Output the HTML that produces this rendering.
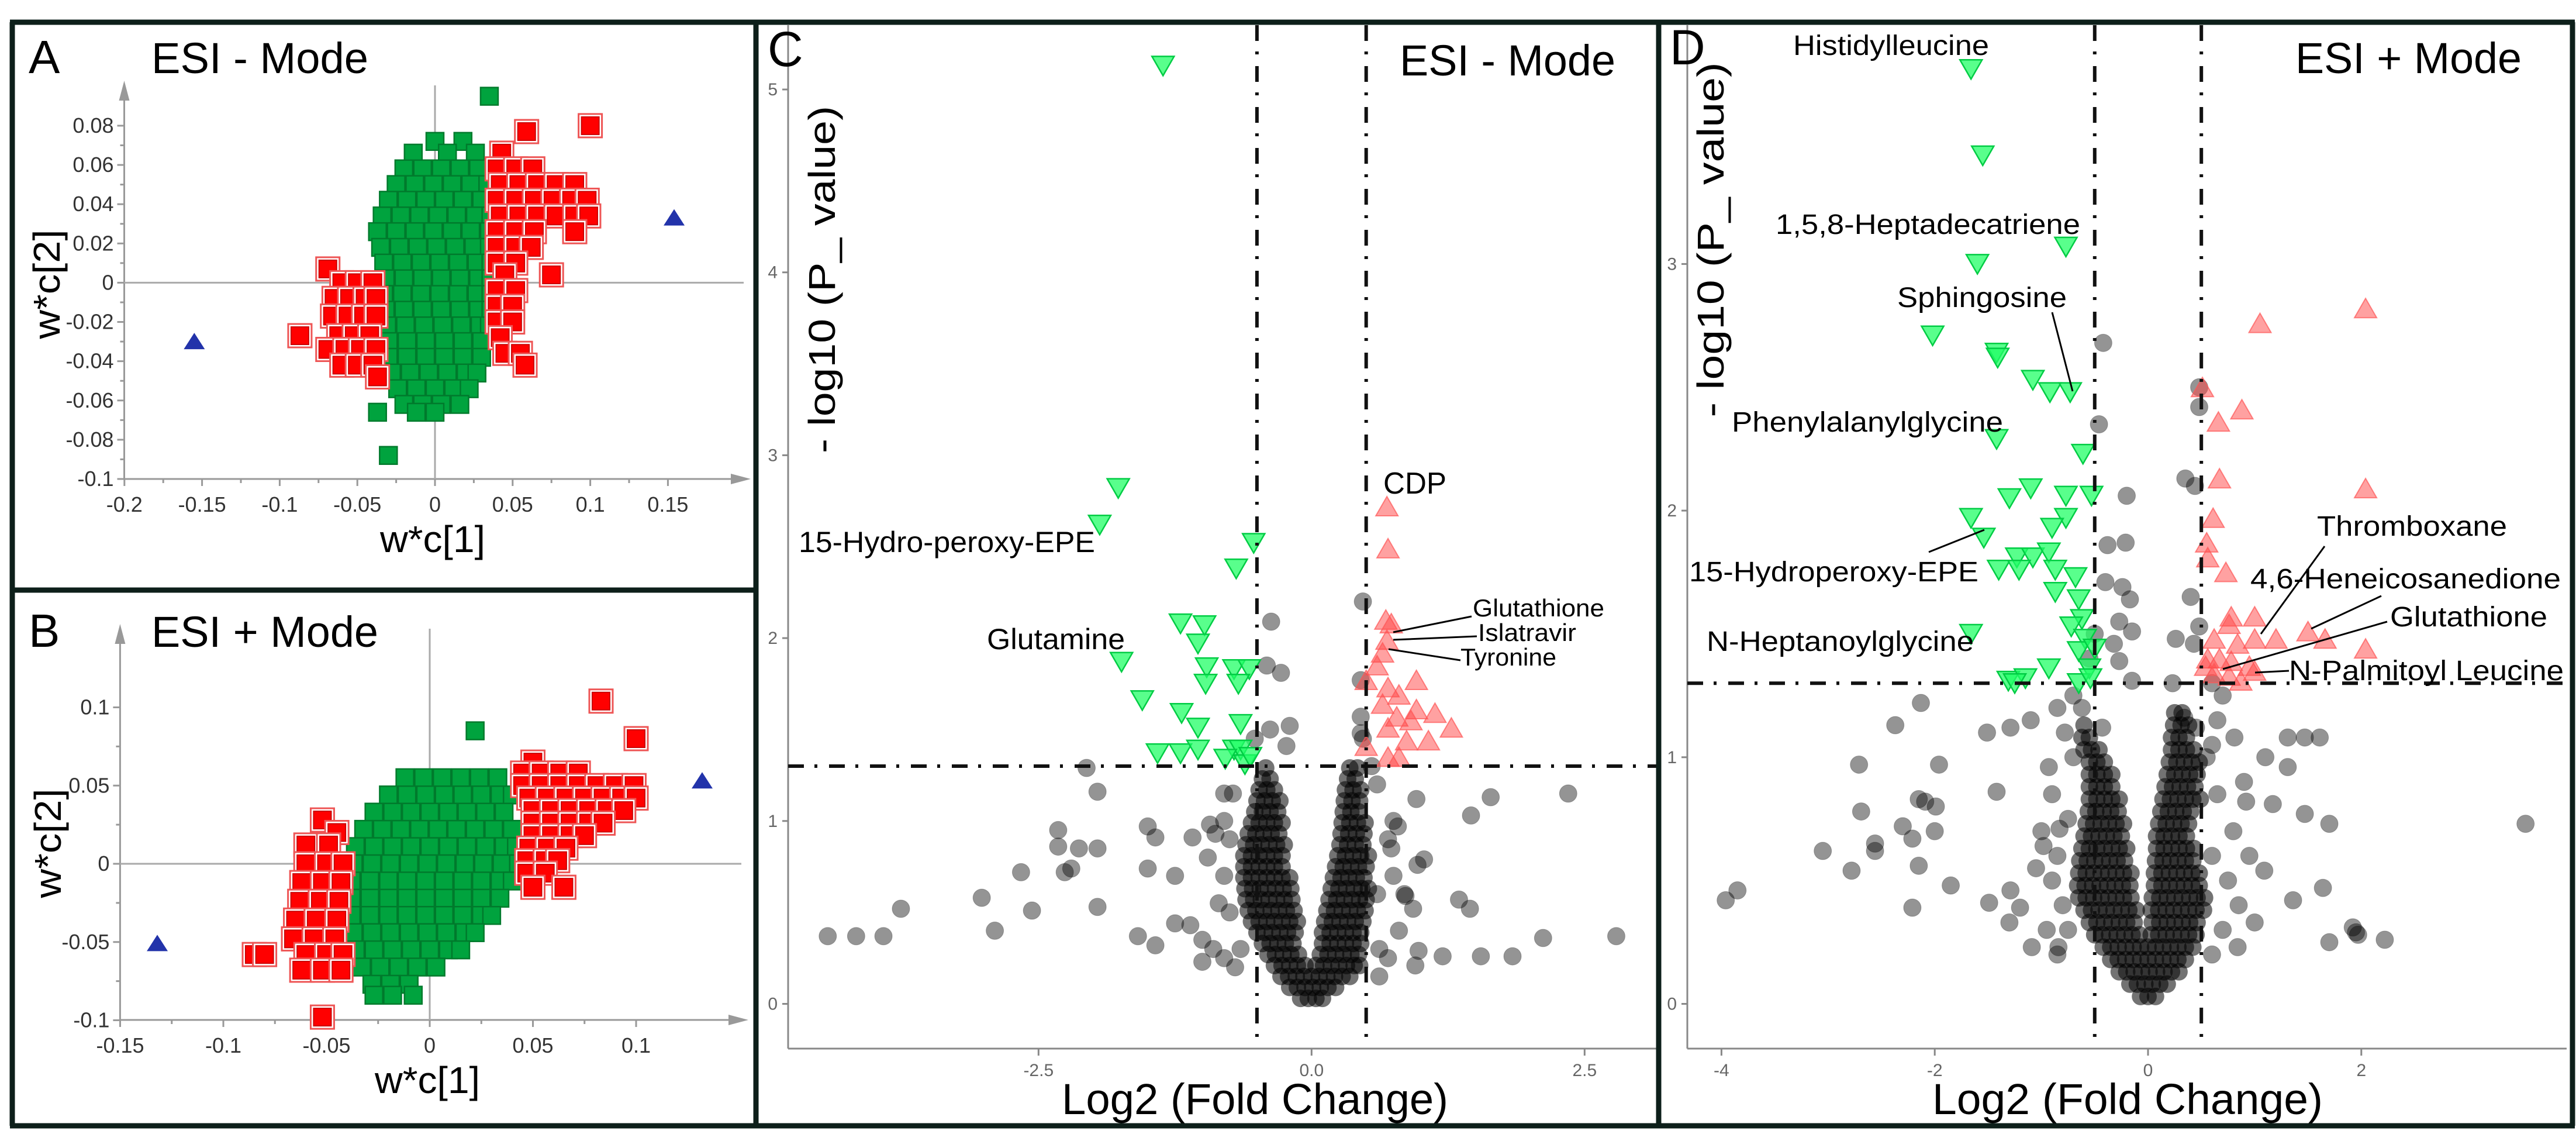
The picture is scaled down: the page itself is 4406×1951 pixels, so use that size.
<!DOCTYPE html>
<html><head><meta charset="utf-8">
<style>
html,body{margin:0;padding:0;background:#fff;}
svg{display:block;font-family:"Liberation Sans",Arial,sans-serif;}
</style></head>
<body>
<svg id="fig" xmlns="http://www.w3.org/2000/svg" width="4406" height="1951" viewBox="0 0 4406 1951">
<rect x="0" y="0" width="4406" height="1951" fill="#fff"/>
<g id="gA"></g>
<g id="gB"></g>
<g id="gC"></g>
<g id="gD"></g>
<g id="frame" stroke="#0d1f1a" stroke-width="9" fill="none">
<line x1="17" y1="38" x2="4404" y2="38"/>
<line x1="17" y1="1925" x2="4404" y2="1925"/>
<line x1="21" y1="38" x2="21" y2="1925"/>
<line x1="1293" y1="38" x2="1293" y2="1925"/>
<line x1="2837" y1="38" x2="2837" y2="1925"/>
<line x1="4400" y1="38" x2="4400" y2="1925"/>
<line x1="21" y1="1009" x2="1293" y2="1009"/>
</g>
</svg>
<script>
// ---------- Panel A data ----------
const aXTicks = [-0.2,-0.15,-0.1,-0.05,0,0.05,0.1,0.15];
const aXTickLabels = ["-0.2","-0.15","-0.1","-0.05","0","0.05","0.1","0.15"];
const aYTicks = [0.08,0.06,0.04,0.02,0,-0.02,-0.04,-0.06,-0.08,-0.1];
const aYTickLabels = ["0.08","0.06","0.04","0.02","0","-0.02","-0.04","-0.06","-0.08","-0.1"];
const aGreenRows = [
[0.095,[0.035]],[0.072,[0.0,0.018]],[0.066,[-0.014,0.008,0.026]],
[0.058,[-0.02,-0.008,0.004,0.016,0.028]],
[0.05,[-0.025,-0.013,-0.001,0.011,0.023,0.034]],
[0.042,[-0.03,-0.018,-0.006,0.006,0.018,0.03,0.038]],
[0.034,[-0.034,-0.022,-0.01,0.002,0.014,0.026,0.036]],
[0.026,[-0.037,-0.025,-0.013,-0.001,0.011,0.023,0.035]],
[0.018,[-0.035,-0.023,-0.011,0.001,0.013,0.025,0.035]],
[0.01,[-0.033,-0.021,-0.009,0.003,0.015,0.027,0.036]],
[0.002,[-0.032,-0.02,-0.008,0.004,0.016,0.028,0.036]],
[-0.006,[-0.033,-0.021,-0.009,0.003,0.015,0.027,0.036]],
[-0.014,[-0.032,-0.02,-0.008,0.004,0.016,0.028,0.036]],
[-0.022,[-0.031,-0.019,-0.007,0.005,0.017,0.029,0.035]],
[-0.03,[-0.03,-0.018,-0.006,0.006,0.018,0.03]],
[-0.038,[-0.03,-0.018,-0.006,0.006,0.018,0.03]],
[-0.046,[-0.028,-0.016,-0.004,0.008,0.02,0.027]],
[-0.054,[-0.024,-0.012,0.0,0.012,0.022]],
[-0.062,[-0.02,-0.008,0.004,0.016]],
[-0.066,[-0.037,-0.012,0.0]],
[-0.088,[-0.03]]
];
const aRedRows = [
[0.08,[0.1]],[0.077,[0.059]],[0.066,[0.043]],[0.058,[0.04,0.052,0.063]],
[0.05,[0.042,0.054,0.066,0.078,0.09]],
[0.042,[0.04,0.052,0.064,0.076,0.088,0.098]],
[0.034,[0.042,0.054,0.066,0.078,0.09,0.099]],
[0.026,[0.04,0.052,0.064,0.09]],
[0.018,[0.04,0.052,0.062]],[0.01,[0.04,0.052]],[0.004,[0.045,0.075]],
[-0.004,[0.04,0.052]],[-0.012,[0.04,0.05]],[-0.02,[0.04,0.05]],[-0.028,[0.042]],
[-0.036,[0.045,0.055]],[-0.042,[0.058]],
[0.007,[-0.069]],[0.0,[-0.06,-0.05,-0.04]],[-0.008,[-0.065,-0.055,-0.045,-0.038]],
[-0.017,[-0.066,-0.056,-0.046,-0.038]],[-0.027,[-0.087,-0.062,-0.052,-0.042]],
[-0.034,[-0.069,-0.058,-0.048,-0.038]],[-0.042,[-0.06,-0.05,-0.04]],[-0.048,[-0.037]]
];
const aBlue = [[-0.155,-0.03],[0.154,0.033]];

// ---------- Panel B data ----------
const bXTicks = [-0.15,-0.1,-0.05,0,0.05,0.1];
const bXTickLabels = ["-0.15","-0.1","-0.05","0","0.05","0.1"];
const bYTicks = [0.1,0.05,0,-0.05,-0.1];
const bYTickLabels = ["0.1","0.05","0","-0.05","-0.1"];
const bGreenRows = [
[0.085,[0.022]],
[0.055,[-0.012,-0.003,0.006,0.015,0.024,0.033]],
[0.044,[-0.02,-0.011,-0.002,0.007,0.016,0.025,0.034,0.04]],
[0.033,[-0.027,-0.018,-0.009,0,0.009,0.018,0.027,0.036]],
[0.022,[-0.032,-0.023,-0.014,-0.005,0.004,0.013,0.022,0.031,0.04]],
[0.011,[-0.036,-0.027,-0.018,-0.009,0,0.009,0.018,0.027,0.036,0.042]],
[0,[-0.037,-0.028,-0.019,-0.01,-0.001,0.008,0.017,0.026,0.035,0.043]],
[-0.011,[-0.038,-0.029,-0.02,-0.011,-0.002,0.007,0.016,0.025,0.034,0.04]],
[-0.022,[-0.038,-0.029,-0.02,-0.011,-0.002,0.007,0.016,0.025,0.034]],
[-0.033,[-0.038,-0.029,-0.02,-0.011,-0.002,0.007,0.016,0.025,0.03]],
[-0.044,[-0.037,-0.028,-0.019,-0.01,-0.001,0.008,0.017,0.022]],
[-0.055,[-0.036,-0.027,-0.018,-0.009,0,0.009,0.015]],
[-0.066,[-0.033,-0.024,-0.015,-0.006,0.003]],
[-0.077,[-0.028,-0.019,-0.01]],
[-0.084,[-0.027,-0.018,-0.008]]
];
const bRedRows = [
[0.104,[0.083]],[0.08,[0.1]],[0.065,[0.05]],
[0.058,[0.045,0.054,0.063,0.072]],
[0.05,[0.045,0.054,0.063,0.072,0.081,0.09,0.099]],
[0.042,[0.048,0.057,0.066,0.075,0.084,0.093,0.1]],
[0.034,[0.05,0.059,0.068,0.077,0.086,0.094]],
[0.026,[0.05,0.059,0.068,0.077,0.084]],
[0.018,[0.05,0.059,0.068,0.075]],
[0.01,[0.048,0.057,0.066]],[0.002,[0.047,0.056,0.062]],
[-0.006,[0.047,0.056]],[-0.015,[0.05,0.065]],
[0.028,[-0.052]],[0.02,[-0.045]],[0.012,[-0.06,-0.049]],
[0.0,[-0.06,-0.05,-0.042]],[-0.012,[-0.062,-0.052,-0.043]],
[-0.024,[-0.063,-0.053,-0.044]],[-0.036,[-0.065,-0.055,-0.045]],
[-0.048,[-0.066,-0.056,-0.046]],[-0.058,[-0.085,-0.08,-0.06,-0.05,-0.042]],
[-0.068,[-0.062,-0.052,-0.043]],[-0.098,[-0.052]]
];
const bBlue = [[-0.132,-0.051],[0.132,0.053]];

// ---------- Panel C data ----------
const cXTicks = [-2.5,0,2.5];
const cXTickLabels = ["-2.5","0.0","2.5"];
const cYTicks = [0,1,2,3,4,5];
const cYTickLabels = ["0","1","2","3","4","5"];
const cDown = [[-1.36,5.13],[-1.77,2.82],[-1.94,2.62],[-0.53,2.52],[-0.69,2.38],[-1.2,2.08],[-0.98,2.07],[-1.04,1.97],[-1.74,1.87],[-0.96,1.84],[-0.71,1.83],[-0.57,1.83],[-0.97,1.75],[-0.67,1.75],[-1.55,1.66],[-1.19,1.59],[-1.04,1.51],[-0.65,1.53],[-1.41,1.37],[-1.2,1.37],[-1.04,1.39],[-0.71,1.39],[-0.65,1.39],[-0.79,1.34],[-0.61,1.31],[-0.56,1.35]];
const cUp = [[0.69,2.72],[0.70,2.49],[0.68,2.10],[0.73,2.08],[0.69,1.99],[0.65,1.92],[0.60,1.85],[0.5,1.77],[0.96,1.77],[0.70,1.73],[0.8,1.69],[0.65,1.64],[0.96,1.61],[1.13,1.59],[0.78,1.57],[0.91,1.55],[1.28,1.51],[0.7,1.51],[1.07,1.44],[0.87,1.44],[0.5,1.41],[0.7,1.35],[0.8,1.35]];
const cNS = [[-4.43,0.37],[-4.17,0.37],[-3.92,0.37],[-3.76,0.52],[-3.02,0.58],[-2.9,0.4],[-2.66,0.72],[-2.56,0.51],[-2.32,0.95],[-2.32,0.86],[-2.13,0.85],[-1.96,0.85],[-2.26,0.72],[-2.2,0.74],[-1.96,0.53],[-1.96,1.16],[-2.06,1.29],[-1.59,0.37],[-1.43,0.32],[-1.5,0.74],[-1.25,0.7],[-1.25,0.44],[-1.43,0.91],[-1.5,0.97],[-1.11,0.43],[-1.0,0.35],[-0.93,0.98],[-0.88,0.93],[-1.09,0.91],
[2.35,1.15],[1.64,1.13],[1.46,1.03],[2.79,0.37],[2.12,0.36],[1.84,0.26],[1.55,0.26],[1.45,0.52],[1.35,0.57],[1.2,0.26],[0.98,0.29],[0.95,0.21],[0.93,0.52],[0.86,0.59],[0.97,0.76],[1.03,0.79],[0.96,1.12],[0.79,0.97],[0.73,0.85],
[-0.37,2.09],[0.47,2.2],[-0.28,1.81],[-0.41,1.85],[-0.2,1.52],[-0.23,1.41],[0.45,1.77],[0.45,1.57],[0.45,1.48],
[-0.75,0.9],[-0.8,0.7],[-0.75,0.5],[-0.65,0.3],[-0.7,0.2],[-0.8,0.25],[-0.85,0.55],[-0.8,1.0],[-0.72,1.15],[-0.9,0.3],[-1.0,0.23],[-0.95,0.8],[-0.8,1.15],[-0.52,1.45],[-0.38,1.5],
[0.6,0.6],[0.7,0.9],[0.62,0.3],[0.6,1.2],[0.75,0.7],[0.8,0.4],[0.62,0.15],[0.75,1.0],[0.7,0.25],[0.85,0.6],[0.47,1.45],[0.55,1.3]];
const cCoreRows = [
[0.03,[-0.1,-0.03,0.04,0.1]],
[0.09,[-0.2,-0.13,-0.06,0.01,0.08,0.15,0.22]],
[0.15,[-0.28,-0.21,-0.14,-0.07,0,0.07,0.14,0.21,0.28,0.35]],
[0.21,[-0.34,-0.27,-0.2,-0.13,-0.06,0.04,0.11,0.18,0.25,0.32,0.39,0.44]],
[0.27,[-0.4,-0.33,-0.26,-0.19,-0.12,0.08,0.15,0.22,0.29,0.36,0.43]],
[0.33,[-0.45,-0.38,-0.31,-0.24,-0.17,0.1,0.17,0.24,0.31,0.38,0.45]],
[0.39,[-0.5,-0.43,-0.36,-0.29,-0.22,-0.15,0.1,0.17,0.24,0.31,0.38,0.45]],
[0.45,[-0.55,-0.48,-0.41,-0.34,-0.27,-0.2,-0.13,0.12,0.19,0.26,0.33,0.4,0.47]],
[0.51,[-0.58,-0.51,-0.44,-0.37,-0.3,-0.23,-0.16,0.14,0.21,0.28,0.35,0.42,0.49]],
[0.57,[-0.6,-0.53,-0.46,-0.39,-0.32,-0.25,-0.18,0.16,0.23,0.3,0.37,0.44,0.5]],
[0.63,[-0.61,-0.54,-0.47,-0.4,-0.33,-0.26,-0.19,0.18,0.25,0.32,0.39,0.46,0.52]],
[0.69,[-0.62,-0.55,-0.48,-0.41,-0.34,-0.27,-0.2,0.2,0.27,0.34,0.41,0.48]],
[0.75,[-0.62,-0.55,-0.48,-0.41,-0.34,-0.27,0.22,0.29,0.36,0.43,0.5]],
[0.81,[-0.62,-0.55,-0.48,-0.41,-0.34,-0.27,0.24,0.31,0.38,0.45,0.52]],
[0.87,[-0.6,-0.53,-0.46,-0.39,-0.32,-0.25,0.26,0.33,0.4,0.47]],
[0.93,[-0.58,-0.51,-0.44,-0.37,-0.3,0.27,0.34,0.41,0.48]],
[0.99,[-0.55,-0.48,-0.41,-0.34,-0.27,0.28,0.35,0.42,0.49]],
[1.05,[-0.52,-0.45,-0.38,-0.31,0.29,0.36,0.43]],
[1.11,[-0.5,-0.43,-0.36,-0.29,0.3,0.37,0.44]],
[1.17,[-0.48,-0.41,-0.34,0.31,0.38,0.45]],
[1.23,[-0.45,-0.38,0.33,0.4]],
[1.29,[-0.42,0.35,0.42]]
];

// ---------- Panel D data ----------
const dXTicks = [-4,-2,0,2];
const dXTickLabels = ["-4","-2","0","2"];
const dYTicks = [0,1,2,3];
const dYTickLabels = ["0","1","2","3"];
const dDown = [[-1.66,3.79],[-1.55,3.44],[-0.77,3.07],[-1.60,3.0],[-2.02,2.71],[-1.42,2.64],[-1.41,2.62],[-1.08,2.53],[-0.92,2.48],[-0.73,2.48],[-1.42,2.29],[-0.61,2.23],[-1.1,2.09],[-1.3,2.05],[-0.77,2.06],[-0.53,2.06],[-1.66,1.97],[-1.54,1.89],[-0.77,1.97],[-0.9,1.93],[-1.23,1.81],[-1.08,1.81],[-0.93,1.83],[-1.4,1.76],[-1.21,1.76],[-0.87,1.76],[-0.68,1.73],[-0.87,1.67],[-0.65,1.64],[-0.62,1.56],[-0.72,1.53],[-1.66,1.50],[-0.59,1.48],[-0.65,1.43],[-0.5,1.44],[-0.93,1.36],[-0.55,1.36],[-1.31,1.31],[-1.15,1.32],[-0.65,1.30],[-0.54,1.32],[-1.25,1.3]];
const dUp = [[2.04,2.82],[1.05,2.76],[0.51,2.5],[0.88,2.41],[0.66,2.36],[0.67,2.13],[2.04,2.09],[0.61,1.97],[0.55,1.87],[0.56,1.81],[0.73,1.75],[1.0,1.57],[0.78,1.57],[0.62,1.48],[1.50,1.51],[1.66,1.48],[2.04,1.44],[1.20,1.48],[1.0,1.48],[0.76,1.54],[0.84,1.46],[0.67,1.40],[0.78,1.39],[0.56,1.40],[0.95,1.37],[0.62,1.34],[0.76,1.33],[0.87,1.31],[1.0,1.35],[0.54,1.37]];
const dNS = [[-3.96,0.42],[-3.85,0.46],[-3.05,0.62],[-2.78,0.54],[-2.69,0.78],[-2.56,0.65],[-2.56,0.62],[-2.71,0.97],[-2.37,1.13],[-2.13,1.22],[-2.3,0.72],[-2.21,0.67],[-2.15,0.83],[-2.09,0.82],[-1.99,0.80],[-2.0,0.70],[-1.96,0.97],[-2.15,0.56],[-2.21,0.39],[-1.85,0.48],[-1.51,1.1],[-1.29,1.12],[-1.42,0.86],[-1.49,0.41],[-1.29,0.46],[-1.2,0.39],[-1.3,0.33],[-1.1,1.15],[-1.09,0.23],[-0.9,0.5],[-0.93,0.96],[-0.83,0.71],[-0.98,0.64],[-0.84,0.23],
[3.54,0.73],[1.92,0.31],[1.97,0.28],[1.95,0.29],[1.7,0.25],[2.22,0.26],[1.64,0.47],[1.7,0.73],[1.47,0.77],[1.31,1.08],[1.47,1.08],[1.61,1.08],[1.31,0.96],[1.1,1.0],[1.36,0.42],[1.0,0.33],[0.84,0.23],[1.09,0.54],[0.92,0.82],[1.17,0.81],[0.81,1.08],[0.34,1.16],[0.45,1.12],
[-0.42,2.68],[-0.46,2.35],[0.48,2.5],[0.48,2.42],[0.35,2.13],[0.44,2.10],[-0.2,2.06],[-0.38,1.86],[-0.21,1.87],[-0.4,1.71],[-0.24,1.69],[-0.17,1.64],[-0.27,1.55],[-0.15,1.51],[-0.32,1.46],[-0.27,1.39],[0.4,1.65],[0.48,1.53],[0.26,1.48],[0.43,1.46],[0.23,1.3],[-0.15,1.31],[-0.43,1.12],
[-0.75,0.75],[-0.8,0.4],[-0.85,0.6],[-0.9,0.85],[-0.7,1.0],[-0.78,1.1],[-0.75,0.3],[-0.85,0.2],[-0.95,0.3],[-1.0,0.7],[-1.05,0.55],[-0.85,1.2],[-0.7,1.25],[-0.55,1.4],[-0.5,1.5],[-0.62,1.2],
[0.6,0.6],[0.65,0.85],[0.7,0.3],[0.75,0.5],[0.8,0.7],[0.9,0.9],[0.6,1.05],[0.65,1.15],[0.6,0.2],[0.85,0.4],[0.95,0.6],[0.6,1.3],[0.7,1.25],[0.55,1.0]];
const dCoreRows = [
[0.03,[-0.07,0,0.07]],
[0.08,[-0.17,-0.1,-0.03,0.04,0.11,0.18]],
[0.13,[-0.27,-0.2,-0.13,-0.06,0.01,0.08,0.15,0.22,0.29]],
[0.18,[-0.35,-0.28,-0.21,-0.14,-0.07,0,0.07,0.14,0.21,0.28,0.35]],
[0.23,[-0.42,-0.35,-0.28,-0.21,-0.14,-0.07,0,0.07,0.14,0.21,0.28,0.35,0.42]],
[0.28,[-0.5,-0.43,-0.36,-0.29,-0.22,-0.15,-0.08,0.03,0.1,0.17,0.24,0.31,0.38,0.45]],
[0.33,[-0.55,-0.48,-0.41,-0.34,-0.27,-0.2,-0.13,0.04,0.11,0.18,0.25,0.32,0.39,0.46]],
[0.38,[-0.6,-0.53,-0.46,-0.39,-0.32,-0.25,-0.18,-0.11,0.03,0.1,0.17,0.24,0.31,0.38,0.45,0.52]],
[0.43,[-0.65,-0.58,-0.51,-0.44,-0.37,-0.3,-0.23,-0.16,0.04,0.11,0.18,0.25,0.32,0.39,0.46,0.53]],
[0.48,[-0.66,-0.59,-0.52,-0.45,-0.38,-0.31,-0.24,-0.17,0.06,0.13,0.2,0.27,0.34,0.41,0.48]],
[0.53,[-0.65,-0.58,-0.51,-0.44,-0.37,-0.3,-0.23,-0.16,0.06,0.13,0.2,0.27,0.34,0.41,0.48]],
[0.58,[-0.64,-0.57,-0.5,-0.43,-0.36,-0.29,-0.22,0.07,0.14,0.21,0.28,0.35,0.42]],
[0.63,[-0.62,-0.55,-0.48,-0.41,-0.34,-0.27,-0.2,0.08,0.15,0.22,0.29,0.36,0.43]],
[0.68,[-0.6,-0.53,-0.46,-0.39,-0.32,-0.25,0.08,0.15,0.22,0.29,0.36]],
[0.73,[-0.58,-0.51,-0.44,-0.37,-0.3,-0.23,0.1,0.17,0.24,0.31,0.38]],
[0.78,[-0.56,-0.49,-0.42,-0.35,-0.28,0.12,0.19,0.26,0.33,0.4]],
[0.83,[-0.55,-0.48,-0.41,-0.34,-0.27,0.14,0.21,0.28,0.35,0.42,0.49]],
[0.88,[-0.55,-0.48,-0.41,-0.34,0.16,0.23,0.3,0.37,0.44]],
[0.93,[-0.55,-0.48,-0.41,-0.34,0.18,0.25,0.32,0.39,0.46]],
[0.98,[-0.55,-0.48,-0.41,0.2,0.27,0.34,0.41,0.48]],
[1.03,[-0.6,-0.53,-0.46,0.22,0.29,0.36,0.43]],
[1.08,[-0.62,-0.55,0.22,0.29,0.36]],
[1.13,[-0.6,0.24,0.31,0.38]],
[1.18,[0.25,0.32]]
];

// ---------- helpers ----------
const NS = "http://www.w3.org/2000/svg";
function mk(parent, tag, attrs, text) {
  const el = document.createElementNS(NS, tag);
  for (const k in attrs) el.setAttribute(k, attrs[k]);
  if (text !== undefined) el.textContent = text;
  parent.appendChild(el);
  return el;
}
function txt(parent, x, y, s, size, opts, name) {
  const a = Object.assign({x:x, y:y, 'font-size':size, fill:'#000'}, opts||{});
  const el = mk(parent, 'text', a, s);
  
  
  return el;
}

// ---------- loading plots (A, B) ----------
function loadingPlot(g, cfg) {
  const X = v => cfg.x0 + cfg.kx * v;
  const Y = v => cfg.y0 - cfg.ky * v;
  const axG = mk(g, 'g', {stroke:'#999', 'stroke-width':3, fill:'none'});
  
  
  let l = mk(axG, 'line', {x1:cfg.axL, y1:cfg.axB, x2:cfg.axR, y2:cfg.axB});
  
  
  l = mk(axG, 'line', {x1:cfg.axL, y1:cfg.axB, x2:cfg.axL, y2:cfg.axT});
  
  
  l = mk(axG, 'line', {x1:cfg.axL, y1:Y(0), x2:cfg.axR, y2:Y(0), stroke:'#aaa'});
  
  
  l = mk(axG, 'line', {x1:X(0), y1:cfg.axB, x2:X(0), y2:cfg.axT-4, stroke:'#aaa'});
  
  
  let p = mk(g, 'polygon', {points:`${cfg.axR+12},${cfg.axB} ${cfg.axR-22},${cfg.axB-9} ${cfg.axR-22},${cfg.axB+9}`, fill:'#999'});
  
  
  p = mk(g, 'polygon', {points:`${cfg.axL},${cfg.axT-12} ${cfg.axL-9},${cfg.axT+22} ${cfg.axL+9},${cfg.axT+22}`, fill:'#999'});
  
  
  cfg.xTicks.forEach((v, i) => {
    const t = mk(axG, 'line', {x1:X(v), y1:cfg.axB, x2:X(v), y2:cfg.axB+12});
    
    
    txt(g, X(v), cfg.axB + 56, cfg.xTickLabels[i], 36, {'text-anchor':'middle', fill:'#333'}, 'x-tick-label');
    if (i < cfg.xTicks.length - 1) {
      const m = mk(axG, 'line', {x1:X((v + cfg.xTicks[i+1]) / 2), y1:cfg.axB, x2:X((v + cfg.xTicks[i+1]) / 2), y2:cfg.axB+7});
      
      
    }
  });
  cfg.yTicks.forEach((v, i) => {
    const t = mk(axG, 'line', {x1:cfg.axL-12, y1:Y(v), x2:cfg.axL, y2:Y(v)});
    
    
    txt(g, cfg.axL - 18, Y(v) + 12, cfg.yTickLabels[i], 36, {'text-anchor':'end', fill:'#333'}, 'y-tick-label');
    if (i < cfg.yTicks.length - 1) {
      const m = mk(axG, 'line', {x1:cfg.axL-7, y1:Y((v + cfg.yTicks[i+1]) / 2), x2:cfg.axL, y2:Y((v + cfg.yTicks[i+1]) / 2)});
      
      
    }
  });
  const s = 30;
  const gg = mk(g, 'g', {});
  
  
  cfg.green.forEach(row => row[1].forEach(x => {
    const r = mk(gg, 'rect', {x:X(x)-s/2, y:Y(row[0])-s/2, width:s, height:s, fill:'#00a33e', stroke:'#007a2c', 'stroke-width':2.5});
    
    
  }));
  const rg = mk(g, 'g', {});
  
  
  cfg.red.forEach(row => row[1].forEach(x => {
    const o = mk(rg, 'rect', {x:X(x)-s/2-5, y:Y(row[0])-s/2-5, width:s+10, height:s+10, fill:'#fff', stroke:'#ee5555', 'stroke-width':3});
    
    
    const r = mk(rg, 'rect', {x:X(x)-s/2, y:Y(row[0])-s/2, width:s, height:s, fill:'#ff0000', stroke:'#cc0000', 'stroke-width':2});
    
    
  }));
  cfg.blue.forEach(pt => {
    const bx = X(pt[0]), by = Y(pt[1]);
    const t = mk(g, 'polygon', {points:`${bx},${by-15} ${bx-18},${by+13} ${bx+18},${by+13}`, fill:'#2233aa'});
    
    
  });
  txt(g, cfg.labX, cfg.labY, cfg.letter, 80, {}, 'panel-letter');
  txt(g, 259, cfg.labY, cfg.mode, 74, {textLength:cfg.modeLen, lengthAdjust:'spacingAndGlyphs'}, 'mode-title');
  txt(g, cfg.xtX, cfg.xtY, 'w*c[1]', 64, {'text-anchor':'middle', textLength:180, lengthAdjust:'spacingAndGlyphs'}, 'x-axis-title');
  txt(g, 0, 0, 'w*c[2]', 64, {'text-anchor':'middle', transform:`translate(${cfg.ytX},${cfg.ytY}) rotate(-90)`, textLength:187, lengthAdjust:'spacingAndGlyphs'}, 'y-axis-title');
}

loadingPlot(document.getElementById('gA'), {
  id:'a', x0:744, kx:2656, y0:483.4, ky:3356, axL:212.5, axR:1272, axB:819, axT:150,
  xTicks:aXTicks, xTickLabels:aXTickLabels, yTicks:aYTicks, yTickLabels:aYTickLabels,
  green:aGreenRows, red:aRedRows, blue:aBlue, letter:'A', mode:'ESI - Mode', modeLen:371,
  labX:49, labY:125, xtX:740, xtY:944, ytX:102, ytY:486
});
loadingPlot(document.getElementById('gB'), {
  id:'b', x0:735, kx:3530, y0:1477, ky:2675, axL:205.4, axR:1268, axB:1744, axT:1079,
  xTicks:bXTicks, xTickLabels:bXTickLabels, yTicks:bYTicks, yTickLabels:bYTickLabels,
  green:bGreenRows, red:bRedRows, blue:bBlue, letter:'B', mode:'ESI + Mode', modeLen:388,
  labX:49, labY:1106, xtX:731, xtY:1869, ytX:104, ytY:1442
});

// ---------- volcano plots (C, D) ----------
function volcano(g, cfg) {
  const X = v => cfg.x0 + cfg.kx * v;
  const Y = v => cfg.y0 - cfg.ky * v;
  const ax = mk(g, 'g', {stroke:'#888', 'stroke-width':3, fill:'none'});
  
  
  let l = mk(ax, 'line', {x1:cfg.axL, y1:cfg.axB, x2:cfg.axR, y2:cfg.axB});
  
  
  l = mk(ax, 'line', {x1:cfg.axL, y1:43, x2:cfg.axL, y2:cfg.axB});
  
  
  cfg.xTicks.forEach((v, i) => {
    const t = mk(ax, 'line', {x1:X(v), y1:cfg.axB, x2:X(v), y2:cfg.axB+12});
    
    
    txt(g, X(v), 1840, cfg.xTickLabels[i], 30, {'text-anchor':'middle', fill:'#666'}, 'x-tick-label');
  });
  cfg.yTicks.forEach((v, i) => {
    const t = mk(ax, 'line', {x1:cfg.axL-10, y1:Y(v), x2:cfg.axL, y2:Y(v)});
    
    
    txt(g, cfg.axL - 18, Y(v) + 10, cfg.yTickLabels[i], 30, {'text-anchor':'end', fill:'#666'}, 'y-tick-label');
  });
  // points
  const ng = mk(g, 'g', {fill:'#000', 'fill-opacity':0.42, stroke:'#000', 'stroke-opacity':0.25, 'stroke-width':1});
  
  
  cfg.ns.forEach(pt => {
    const c = mk(ng, 'circle', {cx:X(pt[0]), cy:Y(pt[1]), r:15});
    
    
  });
  const cg = mk(g, 'g', {fill:'#000', 'fill-opacity':0.55});
  
  
  cfg.core.forEach(row => row[1].forEach(x => {
    const c = mk(cg, 'circle', {cx:X(x), cy:Y(row[0]), r:15});
    
    
  }));
  const dg = mk(g, 'g', {fill:'#22ff66', 'fill-opacity':0.75, stroke:'#00cc44', 'stroke-width':2.5});
  
  
  cfg.down.forEach(pt => {
    const x = X(pt[0]), y = Y(pt[1]);
    const t = mk(dg, 'polygon', {points:`${x-19},${y-16} ${x+19},${y-16} ${x},${y+17}`});
    
    
  });
  const ug = mk(g, 'g', {fill:'#ff4444', 'fill-opacity':0.5, stroke:'#ff5555', 'stroke-opacity':0.7, 'stroke-width':2});
  
  
  cfg.up.forEach(pt => {
    const x = X(pt[0]), y = Y(pt[1]);
    const t = mk(ug, 'polygon', {points:`${x-19},${y+16} ${x+19},${y+16} ${x},${y-17}`});
    
    
  });
  // threshold lines
  const th = mk(g, 'g', {stroke:'#111', 'stroke-width':6, 'stroke-dasharray':'27 18 5 20', fill:'none'});
  
  
  l = mk(th, 'line', {x1:cfg.axL, y1:Y(cfg.pThr), x2:cfg.axR, y2:Y(cfg.pThr)});
  
  
  cfg.fcThr.forEach(v => {
    const vl = mk(th, 'line', {x1:X(v), y1:43, x2:X(v), y2:cfg.axB});
    
    
  });
  // labels
  cfg.labels.forEach(lb => {
    txt(g, lb[1], lb[2], lb[0], lb[3], {textLength:lb[4], lengthAdjust:'spacingAndGlyphs'}, 'metabolite-label');
  });
  const lg = mk(g, 'g', {stroke:'#000', 'stroke-width':3});
  
  
  cfg.leaders.forEach(s => {
    const ll = mk(lg, 'line', {x1:s[0], y1:s[1], x2:s[2], y2:s[3]});
    
    
  });
  txt(g, cfg.letX, cfg.letY, cfg.letter, 84, {}, 'panel-letter');
  txt(g, cfg.modeX, cfg.modeY, cfg.mode, 74, {textLength:cfg.modeLen, lengthAdjust:'spacingAndGlyphs'}, 'mode-title');
  txt(g, cfg.xtX, 1905, 'Log2 (Fold Change)', 74, {textLength:cfg.xtLen, lengthAdjust:'spacingAndGlyphs'}, 'x-axis-title');
  txt(g, 0, 0, '- log10 (P_ value)', 64, {'text-anchor':'middle', transform:`translate(${cfg.ytX},${cfg.ytY}) rotate(-90)`, textLength:cfg.ytLen, lengthAdjust:'spacingAndGlyphs'}, 'y-axis-title');
}

volcano(document.getElementById('gC'), {
  id:'c', x0:2243.3, kx:186.8, y0:1716.5, ky:312.7, axL:1348, axR:2833, axB:1793,
  xTicks:cXTicks, xTickLabels:cXTickLabels, yTicks:cYTicks, yTickLabels:cYTickLabels,
  ns:cNS, core:cCoreRows, down:cDown, up:cUp, pThr:1.3, fcThr:[-0.5,0.5],
  labels:[["CDP",2366,844,52,108],["15-Hydro-peroxy-EPE",1366,944,50,507],["Glutamine",1688,1110,50,236],
          ["Glutathione",2519,1054,42,225],["Islatravir",2528,1096,42,168],["Tyronine",2498,1138,42,164]],
  leaders:[[2383,1081,2517,1054],[2383,1094,2526,1088],[2375,1110,2498,1129]],
  letter:'C', letX:1313, letY:113, mode:'ESI - Mode', modeX:2394, modeY:129, modeLen:369,
  xtX:1816, xtLen:661, ytX:1428, ytY:478, ytLen:594
});
volcano(document.getElementById('gD'), {
  id:'d', x0:3674, kx:182.4, y0:1716.5, ky:421.7, axL:2886, axR:4390, axB:1793,
  xTicks:dXTicks, xTickLabels:dXTickLabels, yTicks:dYTicks, yTickLabels:dYTickLabels,
  ns:dNS, core:dCoreRows, down:dDown, up:dUp, pThr:1.3, fcThr:[-0.5,0.5],
  labels:[["Histidylleucine",3067,94,48,335],["1,5,8-Heptadecatriene",3037,400,48,521],["Sphingosine",3245,525,48,290],
          ["Phenylalanylglycine",2962,738,48,464],["15-Hydroperoxy-EPE",2889,994,48,495],["N-Heptanoylglycine",2919,1113,48,457],
          ["Thromboxane",3963,916,48,325],["4,6-Heneicosanedione",3849,1006,48,531],["Glutathione",4088,1071,48,269],
          ["N-Palmitoyl Leucine",3915,1163,48,470]],
  leaders:[[3510,534,3545,669],[3299,944,3394,906],[3976,934,3867,1084],[4073,1019,3953,1075],[4083,1063,3802,1144],[3915,1147,3857,1150]],
  letter:'D', letX:2856, letY:110, mode:'ESI + Mode', modeX:3926, modeY:125, modeLen:387,
  xtX:3305, xtLen:668, ytX:2948, ytY:410, ytLen:607
});
</script>
</body></html>
